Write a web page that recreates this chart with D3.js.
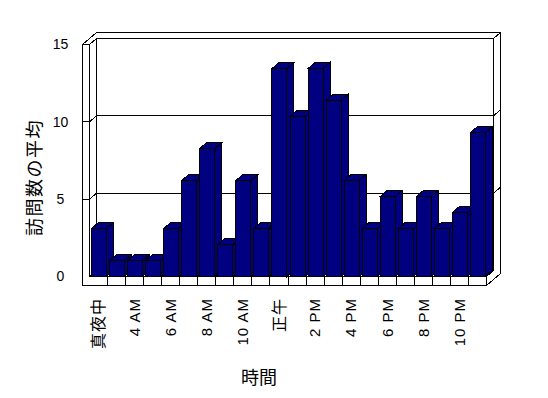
<!DOCTYPE html>
<html>
<head>
<meta charset="utf-8">
<script src="https://cdn.jsdelivr.net/npm/d3@7"></script>
<style>
  body { margin: 0; background: #fff; }
  text { font-family: "Liberation Sans", "Noto Sans CJK JP", sans-serif; fill: #000; }
</style>
</head>
<body>
<div id="chart"></div>
<script>
const width = 548, height = 398;

// data
const hours = ["真夜中", "1 AM", "4 AM", "5 AM", "6 AM", "7 AM", "8 AM", "9 AM", "10 AM", "11 AM",
  "正午", "1 PM", "2 PM", "3 PM", "4 PM", "5 PM", "6 PM", "7 PM", "8 PM", "9 PM", "10 PM", "11 PM"];
const visits = [3, 1, 1, 1, 3, 6, 8, 2, 6, 3, 13, 10, 13, 11, 6, 3, 5, 3, 5, 3, 4, 9];
const yTicks = [0, 5, 10, 15];
const yTitle = "訪問数の平均";
const xTitle = "時間";

const svg = d3.select("#chart")
  .append("svg")
  .attr("width", width)
  .attr("height", height)
  .attr("shape-rendering", "crispEdges");

// depth offset of the 3d box
const dx = 7, dy = -6;
const wallOuter = 82.5, floorBottom = 285.5;

const x = d3.scaleBand().domain(hours).range([89.5, 486.5]);
const y = d3.scaleLinear().domain([0, 15]).range([276.5, 44.5]);   // wall front plane
const yb = d3.scaleLinear().domain([0, 15]).range([276.5, 36.5]);  // bars
const [xa, xb] = x.range();
const yTop = y(15), base = y(0);

const poly = pts => "M" + pts.map(p => p.join(",")).join("L") + "Z";

// walls and floor
const walls = svg.append("g").attr("fill", "#fff").attr("stroke", "#000");
walls.append("path")   // top edges of left + back wall
  .attr("d", poly([[wallOuter, yTop], [xa, yTop], [xa + dx, yTop + dy], [xb + dx, yTop + dy],
    [xb + 2 * dx, yTop + 2 * dy], [wallOuter + 2 * dx, yTop + 2 * dy]]));
walls.append("path")   // back wall
  .attr("d", poly([[xa + dx, yTop + dy], [xb + dx, yTop + dy], [xb + dx, base + dy], [xa + dx, base + dy]]));
walls.append("path")   // left wall inner face
  .attr("d", poly([[xa, yTop], [xa + dx, yTop + dy], [xa + dx, base + dy], [xa, base]]));
walls.append("path")   // floor top
  .attr("d", poly([[xa, base], [xb, base], [xb + dx, base + dy], [xa + dx, base + dy]]));
walls.append("path")   // right side of back wall + floor
  .attr("d", poly([[xb, base], [xb + dx, base + dy], [xb + dx, yTop + dy], [xb + 2 * dx, yTop + 2 * dy],
    [xb + 2 * dx, floorBottom + 2 * dy], [xb, floorBottom]]));
walls.append("path")   // left wall front + floor front
  .attr("d", poly([[wallOuter, yTop], [xa, yTop], [xa, base], [xb, base], [xb, floorBottom], [wallOuter, floorBottom]]));

// gridlines
svg.append("g")
  .selectAll("path")
  .data(yTicks.filter(t => t > 0 && t < 15))
  .enter().append("path")
  .attr("fill", "none")
  .attr("stroke", "#000")
  .attr("d", t => {
    const v = y(t);
    return "M" + [[wallOuter, v], [xa, v], [xa + dx, v + dy], [xb + dx, v + dy], [xb + 2 * dx, v + 2 * dy]]
      .map(p => p.join(",")).join("L");
  });

// floor separators
svg.append("g")
  .selectAll("line")
  .data(hours.slice(1))
  .enter().append("line")
  .attr("x1", d => x(d)).attr("x2", d => x(d))
  .attr("y1", base).attr("y2", floorBottom)
  .attr("stroke", "#000");

// bars
const bw = 15;
const bars = svg.append("g")
  .attr("fill", "#000080")
  .attr("stroke", "#000")
  .selectAll("g")
  .data(hours.map((h, i) => ({ h, v: visits[i] })))
  .enter().append("g");

bars.append("path")   // side
  .attr("d", d => {
    const r = x(d.h) + 2 + bw, t = yb(d.v);
    return poly([[r, t], [r + dx, t + dy], [r + dx, base + dy], [r, base]]);
  });
bars.append("path")   // top
  .attr("d", d => {
    const l = x(d.h) + 2, t = yb(d.v);
    return poly([[l, t], [l + bw, t], [l + bw + dx, t + dy], [l + dx, t + dy]]);
  });
bars.append("rect")   // front
  .attr("x", d => x(d.h) + 2)
  .attr("y", d => yb(d.v))
  .attr("width", bw)
  .attr("height", d => base - yb(d.v));

// y tick labels
svg.append("g")
  .selectAll("text")
  .data(yTicks)
  .enter().append("text")
  .attr("x", 60.5)
  .attr("y", d => y(d))
  .attr("dy", "0.35em")
  .attr("text-anchor", "middle")
  .style("font-size", "14px")
  .text(d => d);

// x tick labels (every other category)
svg.append("g")
  .selectAll("text")
  .data(hours.filter((h, i) => i % 2 === 0))
  .enter().append("text")
  .attr("transform", d => `translate(${x(d) + x.bandwidth() / 2},298) rotate(-90)`)
  .attr("dy", "0.35em")
  .attr("text-anchor", "end")
  .style("font-size", d => /[^\x00-\x7F]/.test(d) ? "16px" : "15px")
  .style("letter-spacing", "1px")
  .text(d => d);

// axis titles
svg.append("text")
  .attr("transform", "translate(35,177.5) rotate(-90)")
  .attr("dy", "0.35em")
  .attr("text-anchor", "middle")
  .style("font-size", "18px")
  .style("letter-spacing", "1.5px")
  .text(yTitle);

svg.append("text")
  .attr("x", 259)
  .attr("y", 378)
  .attr("dy", "0.35em")
  .attr("text-anchor", "middle")
  .style("font-size", "18px")
  .text(xTitle);
</script>
</body>
</html>
